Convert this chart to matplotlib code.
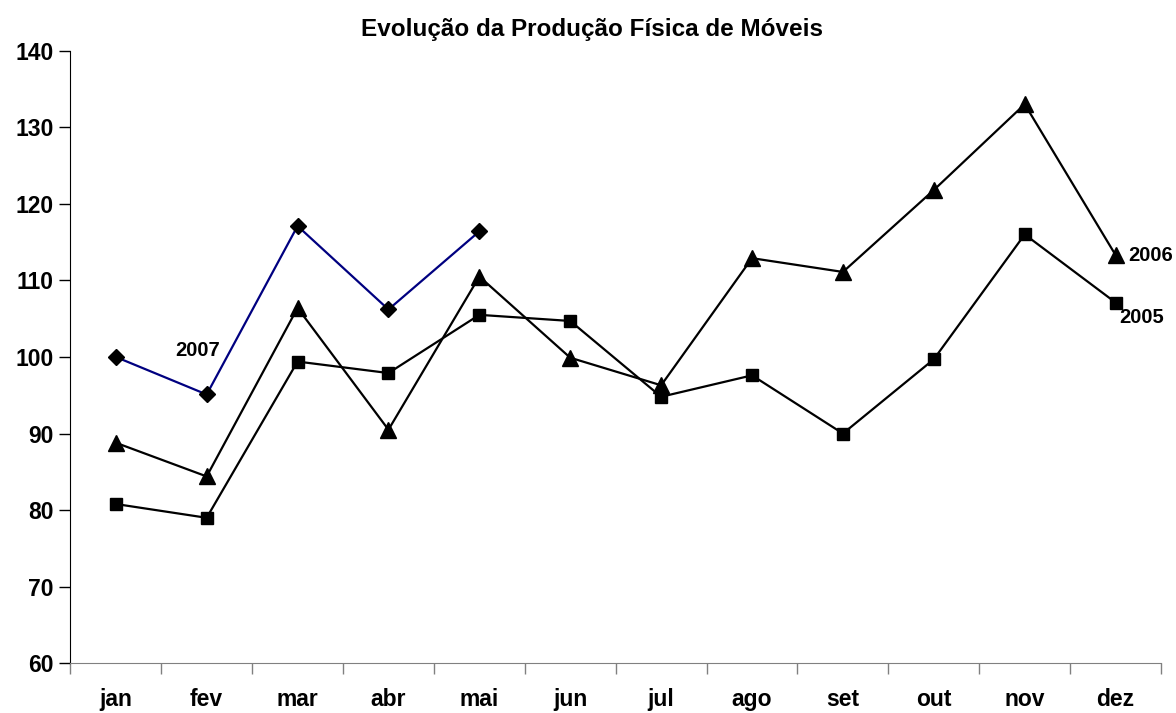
import matplotlib
matplotlib.use("Agg")
import matplotlib.pyplot as plt
import numpy as np

plt.rcParams["font.family"] = ["Liberation Sans", "DejaVu Sans"]
plt.rcParams["font.weight"] = "bold"

months = ["jan", "fev", "mar", "abr", "mai", "jun",
          "jul", "ago", "set", "out", "nov", "dez"]
y2005 = [80.8, 79.0, 99.4, 97.9, 105.5, 104.7, 94.8, 97.6, 90.0, 99.7, 116.0, 107.1]
y2006 = [88.8, 84.4, 106.4, 90.5, 110.5, 99.9, 96.3, 112.9, 111.1, 121.8, 133.0, 113.3]
y2007 = [100.0, 95.1, 117.1, 106.2, 116.4]

x = np.arange(len(months)) + 0.5

fig = plt.figure(figsize=(11.76, 7.13), dpi=100)
ax = fig.add_axes([0.0598, 0.0697, 0.9275, 0.8593])

ax.plot(x, y2005, color="black", lw=1.6, marker="s", ms=8.5, mfc="black", mec="black")
ax.plot(x, y2006, color="black", lw=1.6, marker="^", ms=11, mfc="black", mec="black")
ax.plot(x[:len(y2007)], y2007, color="#000080", lw=1.6, marker="D", ms=8.5,
        mfc="black", mec="black")

ax.text(1.40, 100.9, "2007", ha="center", va="center", fontsize=14.5, fontweight="bold")
ax.text(11.64, 113.3, "2006", ha="left", va="center", fontsize=14.5, fontweight="bold")
ax.text(11.54, 105.2, "2005", ha="left", va="center", fontsize=14.5, fontweight="bold")

ax.set_xlim(0, 12)
ax.set_ylim(60, 140)
ax.set_yticks(range(60, 141, 10))
ax.set_xticks(range(0, 13))
ax.set_xticklabels([])
ax.set_xticks(x, minor=True)
ax.set_xticklabels(months, minor=True, fontsize=16.5, fontweight="bold")
ax.tick_params(axis="x", which="minor", length=0, pad=18)
ax.tick_params(axis="x", which="major", length=8, color="#808080", width=1)
ax.tick_params(axis="y", length=8, width=1, labelsize=16.5, pad=4)
for lbl in ax.get_yticklabels():
    lbl.set_fontweight("bold")

ax.spines["top"].set_visible(False)
ax.spines["right"].set_visible(False)
ax.spines["bottom"].set_color("#808080")
ax.spines["left"].set_color("black")

fig.text(0.503, 0.959, "Evolução da Produção Física de Móveis", ha="center", va="center",
         fontsize=17.5, fontweight="bold")

fig.savefig("out.png", dpi=100)
